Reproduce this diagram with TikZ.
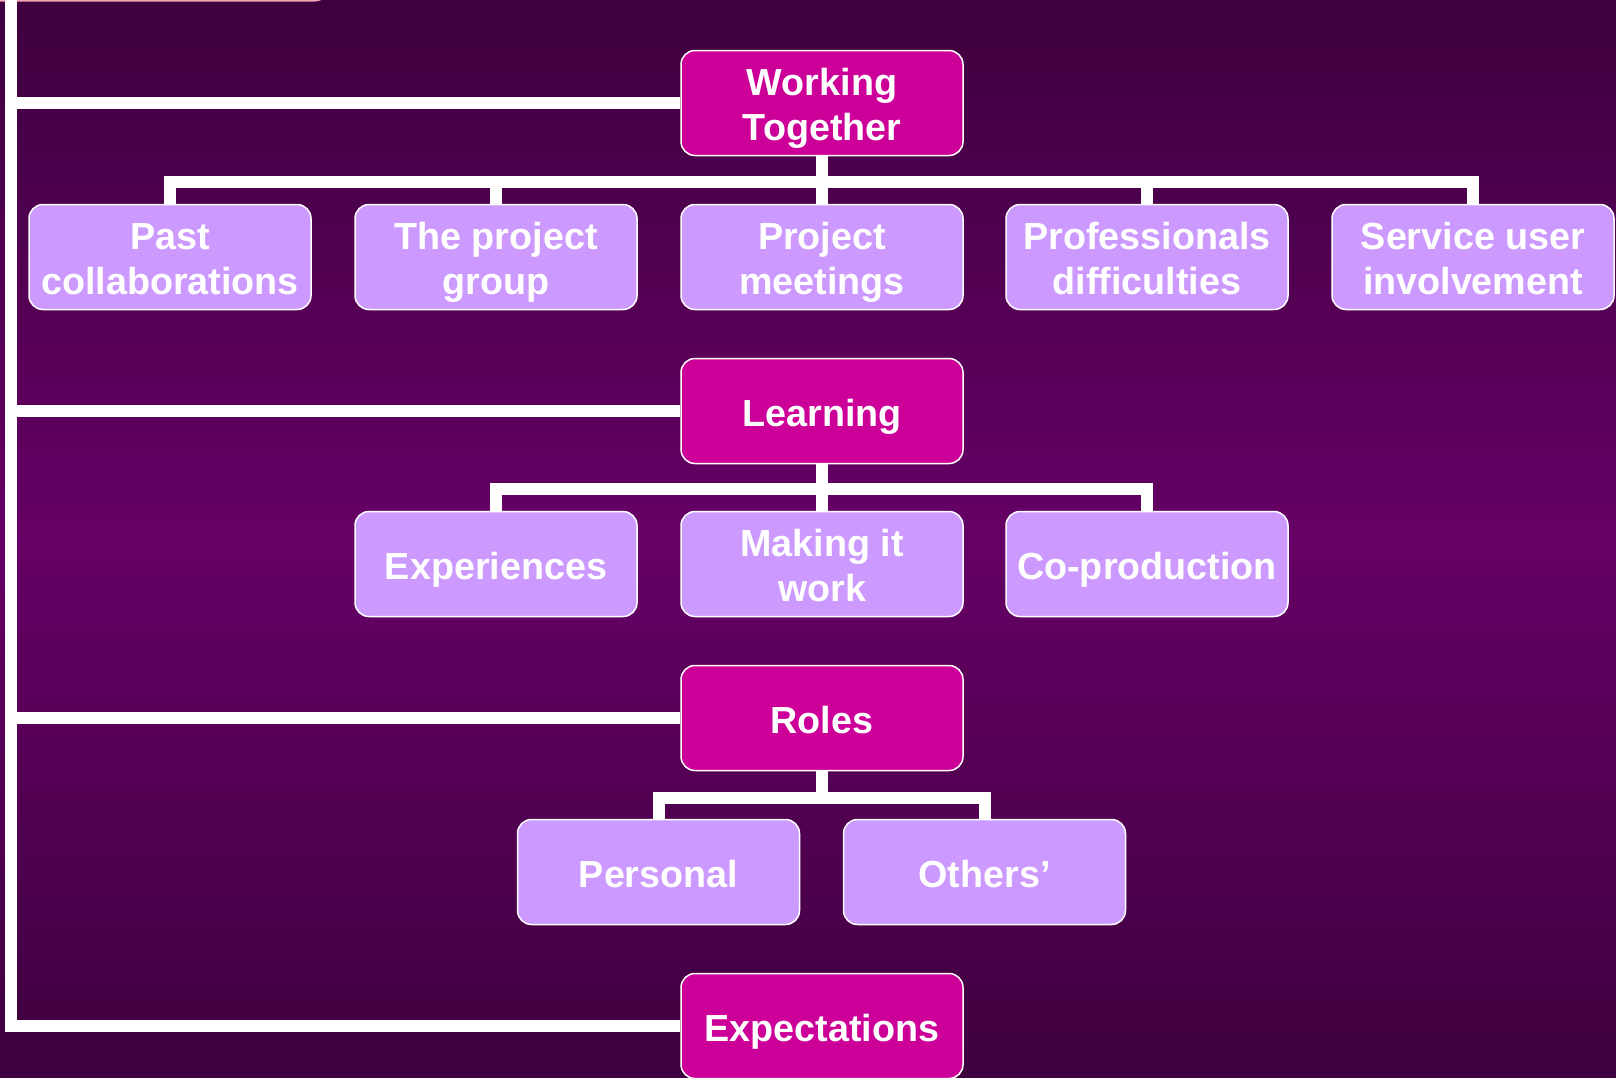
\documentclass[tikz,border=0pt]{standalone}
\usepackage{fontspec}
\setmainfont{Liberation Sans}
\definecolor{bgdark}{HTML}{3E003E}
\definecolor{bgmid}{HTML}{660066}
\definecolor{mag}{HTML}{CC0099}
\definecolor{lav}{HTML}{CC99FF}
\newcommand\bxs{\rule{0pt}{38pt}}
\begin{document}
\begin{tikzpicture}[x=1pt,y=-1pt,
  box/.style={rounded corners=14pt, draw=white, line width=1.5pt,
    minimum width=282pt, minimum height=105pt, inner sep=0pt, align=center,
    text=white, font=\fontsize{37.7}{44.3}\selectfont\bfseries,
    execute at end node={\rule[-8pt]{0pt}{8pt}}},
  parent/.style={box, fill=mag},
  child/.style={box, fill=lav},
  conn/.style={draw=white, line width=12pt}]
\shade[top color=bgdark, bottom color=bgdark, middle color=bgmid] (0,0) rectangle (1616,1077);
\useasboundingbox (0,0) rectangle (1616,1077);

% root box (only its lower edge is visible)
\node[parent, minimum width=348pt, minimum height=200pt, anchor=south west,
  draw={rgb,255:red,244;green,166;blue,180}] (root) at (-20,1.5) {};

% parents
\node[parent] (wt) at (822,103) {\bxs Working\\Together};
\node[parent] (learn) at (822,411) {\bxs Learning};
\node[parent] (roles) at (822,718) {\bxs Roles};
\node[parent] (exp) at (822,1026) {\bxs Expectations};

% children of Working Together
\node[child] (c1) at (170,257) {\bxs Past\\collaborations};
\node[child] (c2) at (496,257) {\bxs The project\\group};
\node[child] (c3) at (822,257) {\bxs Project\\meetings};
\node[child] (c4) at (1147,257) {\bxs Professionals\\difficulties};
\node[child] (c5) at (1473,257) {\bxs Service user\\involvement};

% children of Learning
\node[child] (l1) at (496,564) {\bxs Experiences};
\node[child] (l2) at (822,564) {\bxs Making it\\work};
\node[child] (l3) at (1147,564) {\bxs Co-production};

% children of Roles
\node[child] (r1) at (658.5,872) {\bxs Personal};
\node[child] (r2) at (984.5,872) {\bxs Others’};

% trunk
\coordinate (t0) at (10.5,0);
\draw[conn] (t0) |- (exp.west);
\draw[conn] (t0 |- wt.west) -- (wt.west);
\draw[conn] (t0 |- learn.west) -- (learn.west);
\draw[conn] (t0 |- roles.west) -- (roles.west);

% buses
\foreach \c in {c1,c2,c3,c4,c5}
  \draw[conn] (wt.south) -- ++(0,26) -| (\c.north);
\foreach \c in {l1,l2,l3}
  \draw[conn] (learn.south) -- ++(0,25) -| (\c.north);
\foreach \c in {r1,r2}
  \draw[conn] (roles.south) -- ++(0,27) -| (\c.north);
\end{tikzpicture}
\end{document}
